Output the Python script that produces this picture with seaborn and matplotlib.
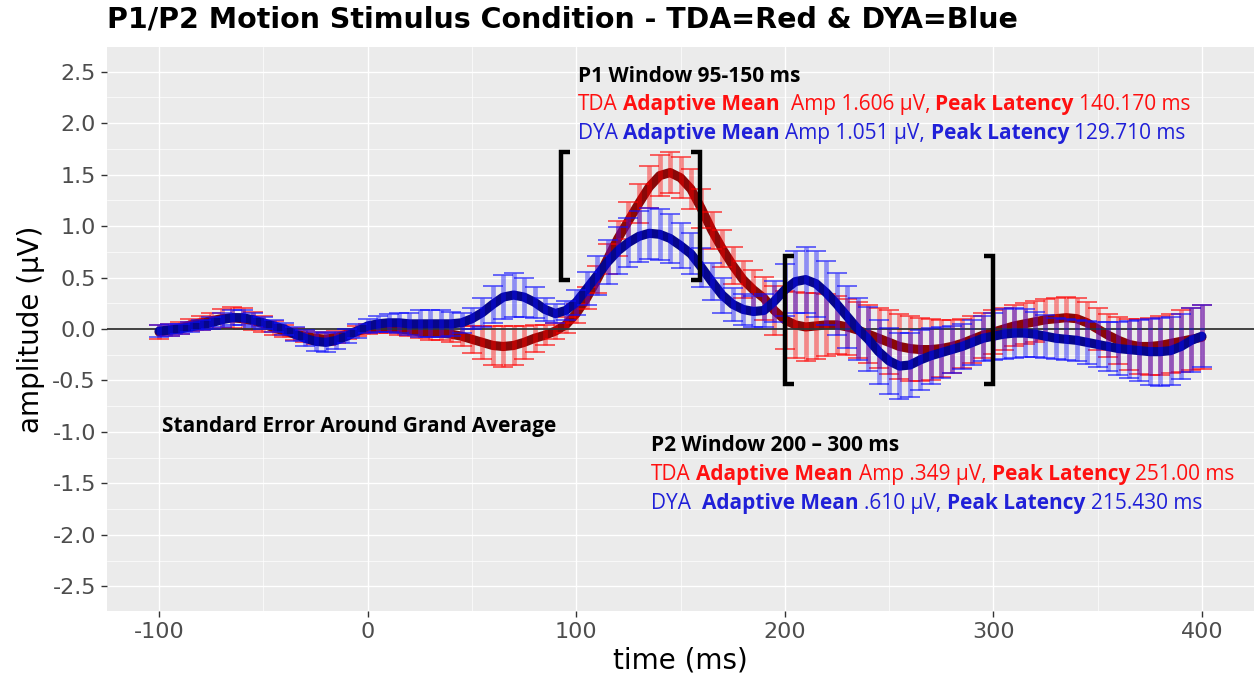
import matplotlib
matplotlib.use("Agg")
import matplotlib.pyplot as plt
import seaborn as sns
import pandas as pd
from matplotlib.ticker import MultipleLocator, FixedLocator

# ---------------- data ----------------
time_ms = list(range(-100, 401, 5))

tda_mean = [
    -0.03, -0.01, 0.01, 0.04, 0.06, 0.08, 0.10, 0.11, 0.10, 0.08,
    0.05, 0.01, -0.02, -0.05, -0.07, -0.09, -0.10, -0.08, -0.05, -0.02,
    0.00, 0.01, 0.01, 0.00, -0.01, -0.03, -0.04, -0.04, -0.05, -0.07,
    -0.10, -0.13, -0.16, -0.17, -0.16, -0.13, -0.09, -0.06, -0.02, 0.04,
    0.15, 0.30, 0.48, 0.68, 0.88, 1.05, 1.22, 1.38, 1.49, 1.52,
    1.47, 1.36, 1.17, 0.96, 0.78, 0.62, 0.48, 0.38, 0.30, 0.18,
    0.09, 0.04, 0.02, 0.03, 0.04, 0.04, 0.02, -0.01, -0.05, -0.09,
    -0.13, -0.17, -0.19, -0.20, -0.20, -0.19, -0.17, -0.14, -0.10, -0.06,
    -0.03, 0.00, 0.03, 0.05, 0.07, 0.09, 0.10, 0.11, 0.10, 0.06,
    0.00, -0.06, -0.11, -0.15, -0.17, -0.17, -0.16, -0.14, -0.12, -0.10,
    -0.08,
]
tda_se = [
    0.07, 0.06, 0.06, 0.06, 0.07, 0.08, 0.09, 0.10, 0.10, 0.09,
    0.08, 0.07, 0.06, 0.06, 0.06, 0.06, 0.06, 0.06, 0.05, 0.05,
    0.05, 0.05, 0.05, 0.06, 0.06, 0.06, 0.07, 0.07, 0.08, 0.10,
    0.13, 0.16, 0.19, 0.20, 0.19, 0.16, 0.13, 0.10, 0.08, 0.08,
    0.09, 0.11, 0.13, 0.15, 0.17, 0.18, 0.19, 0.20, 0.20, 0.20,
    0.20, 0.19, 0.19, 0.18, 0.18, 0.18, 0.18, 0.19, 0.21, 0.24,
    0.28, 0.32, 0.33, 0.32, 0.30, 0.28, 0.27, 0.27, 0.28, 0.29,
    0.31, 0.32, 0.32, 0.31, 0.30, 0.28, 0.26, 0.24, 0.23, 0.22,
    0.21, 0.20, 0.20, 0.20, 0.20, 0.20, 0.20, 0.20, 0.20, 0.20,
    0.20, 0.21, 0.23, 0.25, 0.27, 0.28, 0.29, 0.29, 0.30, 0.30,
    0.31,
]
dya_mean = [
    -0.02, -0.01, 0.00, 0.02, 0.04, 0.06, 0.09, 0.11, 0.11, 0.09,
    0.06, 0.03, 0.00, -0.05, -0.09, -0.12, -0.13, -0.11, -0.07, -0.02,
    0.03, 0.05, 0.06, 0.06, 0.05, 0.05, 0.05, 0.05, 0.05, 0.06,
    0.10, 0.16, 0.24, 0.31, 0.33, 0.31, 0.26, 0.19, 0.15, 0.18,
    0.26, 0.39, 0.52, 0.65, 0.76, 0.84, 0.90, 0.93, 0.92, 0.88,
    0.81, 0.73, 0.60, 0.46, 0.33, 0.24, 0.19, 0.17, 0.18, 0.27,
    0.38, 0.46, 0.48, 0.44, 0.35, 0.24, 0.12, 0.00, -0.10, -0.22,
    -0.31, -0.36, -0.35, -0.30, -0.26, -0.23, -0.20, -0.17, -0.13, -0.09,
    -0.07, -0.05, -0.04, -0.04, -0.05, -0.07, -0.09, -0.10, -0.11, -0.13,
    -0.15, -0.17, -0.19, -0.20, -0.21, -0.22, -0.22, -0.21, -0.17, -0.11,
    -0.07,
]
dya_se = [
    0.06, 0.06, 0.05, 0.05, 0.05, 0.06, 0.07, 0.07, 0.07, 0.07,
    0.06, 0.06, 0.06, 0.07, 0.08, 0.09, 0.09, 0.08, 0.07, 0.07,
    0.07, 0.08, 0.09, 0.10, 0.11, 0.13, 0.13, 0.13, 0.12, 0.10,
    0.10, 0.14, 0.18, 0.21, 0.21, 0.19, 0.15, 0.11, 0.09, 0.09,
    0.12, 0.16, 0.19, 0.21, 0.23, 0.24, 0.25, 0.25, 0.25, 0.24,
    0.22, 0.20, 0.19, 0.18, 0.17, 0.16, 0.15, 0.15, 0.16, 0.20,
    0.25, 0.30, 0.32, 0.32, 0.31, 0.30, 0.30, 0.30, 0.31, 0.31,
    0.32, 0.32, 0.31, 0.29, 0.27, 0.25, 0.23, 0.22, 0.22, 0.22,
    0.23, 0.24, 0.24, 0.23, 0.22, 0.21, 0.20, 0.20, 0.20, 0.21,
    0.22, 0.24, 0.26, 0.28, 0.30, 0.32, 0.33, 0.33, 0.32, 0.31,
    0.30,
]

x_ticks = [-100, 0, 100, 200, 300, 400]
y_ticks = [-2.5, -2.0, -1.5, -1.0, -0.5, 0.0, 0.5, 1.0, 1.5, 2.0, 2.5]
y_tick_labels = ["-2.5", "-2.0", "-1.5", "-1.0", "-0.5", "0.0", "0.5", "1.0", "1.5", "2.0", "2.5"]

# analysis-window brackets: x = (left, right) in ms, y = (bottom, top) in µV
p1_bracket_x = [92.6, 159.3]
p1_bracket_y = [0.48, 1.72]
p2_bracket_x = [200.1, 299.9]
p2_bracket_y = [-0.53, 0.71]

title = "P1/P2 Motion Stimulus Condition - TDA=Red & DYA=Blue"

# ---------------- style ----------------
sns.set_theme(style="darkgrid", rc={
    "axes.facecolor": "#EBEBEB",
    "grid.color": "white",
    "axes.edgecolor": "#EBEBEB",
})
plt.rcParams["font.family"] = ["DejaVu Sans"]
ann_font = ["Open Sans", "DejaVu Sans"]

W, H = 1254, 684
fig = plt.figure(figsize=(W / 100, H / 100), dpi=100)
fig.patch.set_facecolor("white")
L, R, T, B = 107, 1254, 47, 611
ax = fig.add_axes([L / W, 1 - B / H, (R - L) / W, (B - T) / H])

df = pd.DataFrame({
    "time": time_ms * 2,
    "amp": tda_mean + dya_mean,
    "se": tda_se + dya_se,
    "group": ["TDA"] * len(time_ms) + ["DYA"] * len(time_ms),
})

styles = {
    "TDA": dict(line="#8A0808", bar=(1.0, 0.0, 0.0, 0.42), cap=(1.0, 0.0, 0.0, 0.6), z=2),
    "DYA": dict(line="#06068C", bar=(0.05, 0.05, 1.0, 0.42), cap=(0.05, 0.05, 1.0, 0.6), z=4),
}
for grp in ["TDA", "DYA"]:
    sub = df[df["group"] == grp]
    st = styles[grp]
    sns.lineplot(data=sub, x="time", y="amp", ax=ax, color=st["line"],
                 linewidth=6.6, zorder=st["z"], legend=False)
    _, caps, bars = ax.errorbar(sub["time"], sub["amp"], yerr=sub["se"], fmt="none",
                                ecolor=st["bar"], elinewidth=3.4, capsize=7.4,
                                capthick=1.4, zorder=st["z"] + 0.5)
    for c in caps:
        c.set_markeredgecolor(st["cap"])

ax.axhline(0, color="#333333", lw=1.3, zorder=3)

# brackets
for bx, by in [(p1_bracket_x, p1_bracket_y), (p2_bracket_x, p2_bracket_y)]:
    s = 4.5
    ax.plot([bx[0] + s, bx[0], bx[0], bx[0] + s], [by[1], by[1], by[0], by[0]],
            color="black", lw=3.2, solid_joinstyle="miter", solid_capstyle="butt", zorder=6)
    ax.plot([bx[1] - s, bx[1], bx[1], bx[1] - s], [by[1], by[1], by[0], by[0]],
            color="black", lw=3.2, solid_joinstyle="miter", solid_capstyle="butt", zorder=6)

ax.set_xlim(-125, 425)
ax.set_ylim(-2.74, 2.74)
ax.xaxis.set_major_locator(FixedLocator(x_ticks))
ax.set_xticklabels([str(v) for v in x_ticks])
ax.yaxis.set_major_locator(FixedLocator(y_ticks))
ax.set_yticklabels(y_tick_labels)
ax.xaxis.set_minor_locator(MultipleLocator(50))
ax.yaxis.set_minor_locator(MultipleLocator(0.25))
ax.grid(which="major", color="white", lw=1.0)
ax.grid(which="minor", color="white", lw=0.5)
ax.tick_params(which="major", length=4, width=1, color="#333333",
               labelcolor="#4D4D4D", labelsize=16, pad=4, left=True, bottom=True)
ax.tick_params(which="minor", length=0)
for sp in ax.spines.values():
    sp.set_visible(False)

ax.set_xlabel("time (ms)", fontsize=20, color="black")
ax.set_ylabel("amplitude (µV)", fontsize=20, color="black")
ax.xaxis.set_label_coords(0.5, (B - 660) / (B - T))
ax.xaxis.label.set_va("center")
ax.yaxis.set_label_coords((31 - L) / (R - L), 0.5)
ax.yaxis.label.set_va("center")
ax.yaxis.label.set_ha("center")

fig.text(L / W, 1 - 20 / H, title, fontsize=20.5, fontweight="bold",
         ha="left", va="center", color="black")

# ---------------- annotations ----------------
RED = "#FF1010"
BLUE = "#2020D8"
FS = 15


def rich_line(x, y, pieces, color):
    txt, wt = pieces[0]
    prev = ax.text(x, y, txt, color=color, fontsize=FS, fontweight=wt,
                   family=ann_font, ha="left", va="center", zorder=7)
    for txt, wt, gap in pieces[1:]:
        prev = ax.annotate(txt, xy=(1, 0.5), xycoords=prev,
                           xytext=(gap * FS * 0.26, 0), textcoords="offset points",
                           color=color, fontsize=FS, fontweight=wt,
                           family=ann_font, ha="left", va="center", zorder=7)


ax.text(-98.4, -0.95, "Standard Error Around Grand Average", fontsize=FS,
        fontweight="bold", family=ann_font, ha="left", va="center", color="black")

ax.text(100.8, 2.45, "P1 Window 95-150 ms", fontsize=FS, fontweight="bold",
        family=ann_font, ha="left", va="center", color="black")
rich_line(100.8, 2.18, [("TDA", "normal"), ("Adaptive Mean", "bold", 1),
                        ("Amp 1.606 µV,", "normal", 2), ("Peak Latency", "bold", 1),
                        ("140.170 ms", "normal", 1)], RED)
rich_line(100.8, 1.90, [("DYA", "normal"), ("Adaptive Mean", "bold", 1),
                        ("Amp 1.051 µV,", "normal", 1), ("Peak Latency", "bold", 1),
                        ("129.710 ms", "normal", 1)], BLUE)

ax.text(136, -1.13, "P2 Window 200 – 300 ms", fontsize=FS, fontweight="bold",
        family=ann_font, ha="left", va="center", color="black")
rich_line(136, -1.41, [("TDA", "normal"), ("Adaptive Mean", "bold", 1),
                       ("Amp .349 µV,", "normal", 1), ("Peak Latency", "bold", 1),
                       ("251.00 ms", "normal", 1)], RED)
rich_line(136, -1.70, [("DYA", "normal"), ("Adaptive Mean", "bold", 2),
                       (".610 µV,", "normal", 1), ("Peak Latency", "bold", 1),
                       ("215.430 ms", "normal", 1)], BLUE)

fig.savefig("out.png", dpi=100, facecolor="white")
